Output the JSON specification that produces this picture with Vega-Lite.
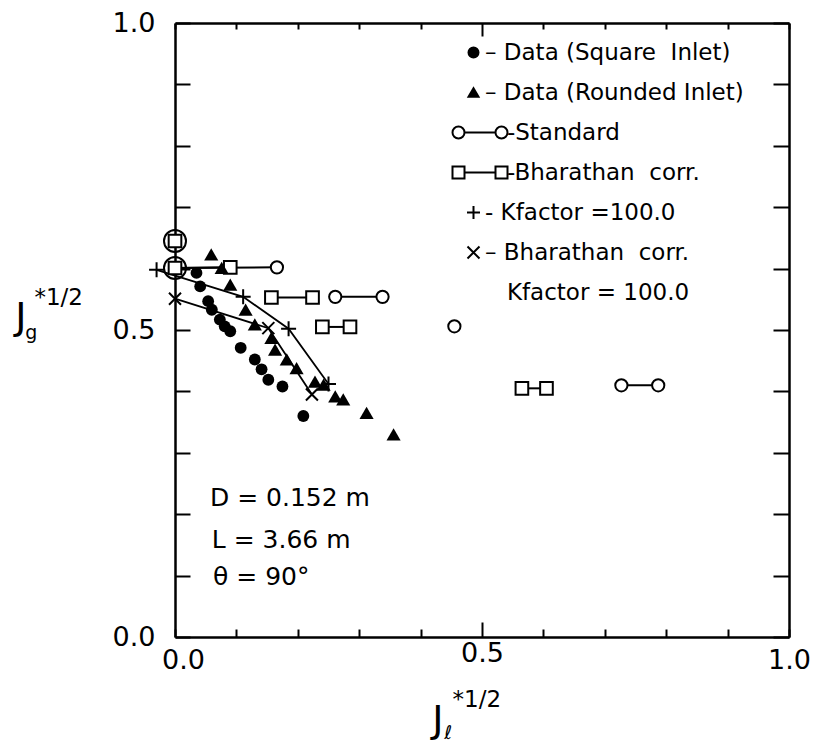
{
  "$schema": "https://vega.github.io/schema/vega-lite/v6.json",
  "width": 614,
  "height": 614,
  "autosize": {"type": "none"},
  "padding": {"left": 175, "top": 23, "right": 28, "bottom": 110},
  "background": "white",
  "config": {
    "view": {"stroke": null},
    "font": "DejaVu Sans",
    "axis": {
      "domainColor": "black",
      "domainWidth": 2.5,
      "tickColor": "black",
      "tickWidth": 2,
      "labelColor": "black",
      "labelFont": "DejaVu Sans",
      "labelFontSize": 27,
      "labelFlush": false,
      "grid": false
    }
  },
  "datasets": {
    "points": [
      {"series": "Standard", "pair": "S1", "x": 0, "y": 0.645},
      {"series": "Standard", "pair": "S2", "x": 0, "y": 0.601},
      {"series": "Standard", "pair": "S2", "x": 0.166, "y": 0.602},
      {"series": "Standard", "pair": "S3", "x": 0.261, "y": 0.554},
      {"series": "Standard", "pair": "S3", "x": 0.338, "y": 0.554},
      {"series": "Standard", "pair": "S4", "x": 0.455, "y": 0.506},
      {"series": "Standard", "pair": "S5", "x": 0.727, "y": 0.41},
      {"series": "Standard", "pair": "S5", "x": 0.787, "y": 0.41},
      {"series": "Bharathan corr.", "pair": "B1", "x": 0, "y": 0.645},
      {"series": "Bharathan corr.", "pair": "B2", "x": 0, "y": 0.601},
      {"series": "Bharathan corr.", "pair": "B2", "x": 0.09, "y": 0.602},
      {"series": "Bharathan corr.", "pair": "B3", "x": 0.157, "y": 0.553},
      {"series": "Bharathan corr.", "pair": "B3", "x": 0.224, "y": 0.553},
      {"series": "Bharathan corr.", "pair": "B4", "x": 0.24, "y": 0.505},
      {"series": "Bharathan corr.", "pair": "B4", "x": 0.285, "y": 0.505},
      {"series": "Bharathan corr.", "pair": "B5", "x": 0.565, "y": 0.405},
      {"series": "Bharathan corr.", "pair": "B5", "x": 0.605, "y": 0.405},
      {"series": "Kfactor =100.0", "pair": "K", "x": -0.03, "y": 0.598},
      {"series": "Kfactor =100.0", "pair": "K", "x": 0.111, "y": 0.554},
      {"series": "Kfactor =100.0", "pair": "K", "x": 0.185, "y": 0.502},
      {"series": "Kfactor =100.0", "pair": "K", "x": 0.25, "y": 0.412},
      {"series": "Bharathan corr. Kfactor = 100.0", "pair": "BK", "x": 0, "y": 0.551},
      {"series": "Bharathan corr. Kfactor = 100.0", "pair": "BK", "x": 0.152, "y": 0.503},
      {"series": "Bharathan corr. Kfactor = 100.0", "pair": "BK", "x": 0.223, "y": 0.395},
      {"series": "Data (Square Inlet)", "pair": "D1", "x": 0.035, "y": 0.593},
      {"series": "Data (Square Inlet)", "pair": "D1", "x": 0.041, "y": 0.571},
      {"series": "Data (Square Inlet)", "pair": "D1", "x": 0.054, "y": 0.547},
      {"series": "Data (Square Inlet)", "pair": "D1", "x": 0.06, "y": 0.533},
      {"series": "Data (Square Inlet)", "pair": "D1", "x": 0.073, "y": 0.517},
      {"series": "Data (Square Inlet)", "pair": "D1", "x": 0.081, "y": 0.506},
      {"series": "Data (Square Inlet)", "pair": "D1", "x": 0.09, "y": 0.498},
      {"series": "Data (Square Inlet)", "pair": "D1", "x": 0.107, "y": 0.471},
      {"series": "Data (Square Inlet)", "pair": "D1", "x": 0.13, "y": 0.452},
      {"series": "Data (Square Inlet)", "pair": "D1", "x": 0.141, "y": 0.436},
      {"series": "Data (Square Inlet)", "pair": "D1", "x": 0.152, "y": 0.419},
      {"series": "Data (Square Inlet)", "pair": "D1", "x": 0.175, "y": 0.408},
      {"series": "Data (Square Inlet)", "pair": "D1", "x": 0.209, "y": 0.36},
      {"series": "Data (Rounded Inlet)", "pair": "D2", "x": 0.059, "y": 0.623},
      {"series": "Data (Rounded Inlet)", "pair": "D2", "x": 0.076, "y": 0.601},
      {"series": "Data (Rounded Inlet)", "pair": "D2", "x": 0.09, "y": 0.574},
      {"series": "Data (Rounded Inlet)", "pair": "D2", "x": 0.115, "y": 0.533},
      {"series": "Data (Rounded Inlet)", "pair": "D2", "x": 0.13, "y": 0.509},
      {"series": "Data (Rounded Inlet)", "pair": "D2", "x": 0.157, "y": 0.487},
      {"series": "Data (Rounded Inlet)", "pair": "D2", "x": 0.163, "y": 0.468},
      {"series": "Data (Rounded Inlet)", "pair": "D2", "x": 0.182, "y": 0.452},
      {"series": "Data (Rounded Inlet)", "pair": "D2", "x": 0.198, "y": 0.438},
      {"series": "Data (Rounded Inlet)", "pair": "D2", "x": 0.228, "y": 0.416},
      {"series": "Data (Rounded Inlet)", "pair": "D2", "x": 0.242, "y": 0.411},
      {"series": "Data (Rounded Inlet)", "pair": "D2", "x": 0.261, "y": 0.392},
      {"series": "Data (Rounded Inlet)", "pair": "D2", "x": 0.274, "y": 0.387},
      {"series": "Data (Rounded Inlet)", "pair": "D2", "x": 0.312, "y": 0.365},
      {"series": "Data (Rounded Inlet)", "pair": "D2", "x": 0.356, "y": 0.33}
    ],
    "notes": [
      {"kind": "param", "text": "D = 0.152 m", "x": 0.057, "y": 0.226},
      {"kind": "param", "text": "L = 3.66 m", "x": 0.06, "y": 0.158},
      {"kind": "param", "text": "θ = 90°", "x": 0.062, "y": 0.098},
      {"kind": "main", "text": "J", "x": -0.251, "y": 0.52},
      {"kind": "main", "text": "J", "x": 0.428, "y": -0.136},
      {"kind": "sub", "text": "g", "x": -0.234, "y": 0.495},
      {"kind": "sub", "text": "ℓ", "x": 0.445, "y": -0.156},
      {"kind": "sup", "text": "*1/2", "x": -0.229, "y": 0.552},
      {"kind": "sup", "text": "*1/2", "x": 0.452, "y": -0.102}
    ]
  },
  "layer": [
    {
      "data": {"name": "points"},
      "transform": [{"filter": "datum.series == 'Standard'"}],
      "mark": {"type": "line", "stroke": "black", "strokeWidth": 2},
      "encoding": {
        "x": {
          "field": "x", "type": "quantitative",
          "scale": {"domain": [0, 1], "nice": false, "zero": false},
          "axis": {
            "orient": "bottom", "title": null,
            "values": [0, 0.1, 0.2, 0.3, 0.4, 0.5, 0.6, 0.7, 0.8, 0.9, 1],
            "tickSize": {"condition": {"test": "datum.value == 0.5", "value": -15}, "value": -8},
            "labelPadding": 18,
            "labelOffset": {"condition": {"test": "datum.value == 0", "value": 8}, "value": 0},
            "labelExpr": "datum.value == 0 || datum.value == 0.5 || datum.value == 1 ? format(datum.value, '.1f') : ''"
          }
        },
        "y": {
          "field": "y", "type": "quantitative",
          "scale": {"domain": [0, 1], "nice": false, "zero": false},
          "axis": {
            "orient": "left", "title": null,
            "values": [0, 0.1, 0.2, 0.3, 0.4, 0.5, 0.6, 0.7, 0.8, 0.9, 1],
            "tickSize": -15,
            "labelPadding": 35,
            "labelExpr": "datum.value == 0 || datum.value == 0.5 || datum.value == 1 ? format(datum.value, '.1f') : ''"
          }
        },
        "detail": {"field": "pair"}
      }
    },
    {
      "data": {"name": "points"},
      "transform": [{"filter": "datum.series == 'Bharathan corr.'"}],
      "mark": {"type": "line", "stroke": "black", "strokeWidth": 2},
      "encoding": {
        "x": {
          "field": "x", "type": "quantitative",
          "axis": {
            "orient": "top", "title": null, "labels": false,
            "values": [0, 0.1, 0.2, 0.3, 0.4, 0.5, 0.6, 0.7, 0.8, 0.9, 1],
            "tickSize": {"condition": {"test": "datum.value == 0.5", "value": -13}, "value": -6}
          }
        },
        "y": {
          "field": "y", "type": "quantitative",
          "axis": {
            "orient": "right", "title": null, "labels": false,
            "values": [0, 0.1, 0.2, 0.3, 0.4, 0.5, 0.6, 0.7, 0.8, 0.9, 1],
            "tickSize": -16
          }
        },
        "detail": {"field": "pair"}
      }
    },
    {
      "data": {"name": "points"},
      "transform": [{"filter": "datum.series == 'Kfactor =100.0' || datum.series == 'Bharathan corr. Kfactor = 100.0'"}],
      "mark": {"type": "line", "stroke": "black", "strokeWidth": 1.8},
      "encoding": {
        "x": {"field": "x", "type": "quantitative", "axis": null},
        "y": {"field": "y", "type": "quantitative", "axis": null},
        "detail": {"field": "pair"}
      }
    },
    {
      "data": {"name": "points"},
      "transform": [{"filter": "datum.series == 'Standard' && datum.x == 0"}],
      "mark": {"type": "point", "shape": "circle", "size": 484, "filled": false, "stroke": "black", "strokeWidth": 2, "opacity": 1},
      "encoding": {
        "x": {"field": "x", "type": "quantitative", "axis": null},
        "y": {"field": "y", "type": "quantitative", "axis": null}
      }
    },
    {
      "data": {"name": "points"},
      "transform": [{"filter": "datum.series == 'Standard' && datum.x > 0"}],
      "mark": {"type": "point", "shape": "circle", "size": 150, "filled": true, "fill": "white", "stroke": "black", "strokeWidth": 2, "opacity": 1},
      "encoding": {
        "x": {"field": "x", "type": "quantitative", "axis": null},
        "y": {"field": "y", "type": "quantitative", "axis": null}
      }
    },
    {
      "data": {"name": "points"},
      "transform": [{"filter": "datum.series == 'Bharathan corr.'"}],
      "mark": {"type": "point", "shape": "square", "size": 160, "filled": true, "fill": "white", "stroke": "black", "strokeWidth": 2, "opacity": 1},
      "encoding": {
        "x": {"field": "x", "type": "quantitative", "axis": null},
        "y": {"field": "y", "type": "quantitative", "axis": null}
      }
    },
    {
      "data": {"name": "points"},
      "transform": [{"filter": "datum.series == 'Kfactor =100.0'"}],
      "mark": {"type": "point", "shape": "M-1,0L1,0M0,-1L0,1", "size": 225, "filled": false, "stroke": "black", "strokeWidth": 2, "opacity": 1},
      "encoding": {
        "x": {"field": "x", "type": "quantitative", "axis": null},
        "y": {"field": "y", "type": "quantitative", "axis": null}
      }
    },
    {
      "data": {"name": "points"},
      "transform": [{"filter": "datum.series == 'Bharathan corr. Kfactor = 100.0'"}],
      "mark": {"type": "point", "shape": "M-1,-1L1,1M-1,1L1,-1", "size": 144, "filled": false, "stroke": "black", "strokeWidth": 2, "opacity": 1},
      "encoding": {
        "x": {"field": "x", "type": "quantitative", "axis": null},
        "y": {"field": "y", "type": "quantitative", "axis": null}
      }
    },
    {
      "data": {"name": "points"},
      "transform": [{"filter": "datum.series == 'Data (Square Inlet)'"}],
      "mark": {"type": "point", "shape": "circle", "size": 140, "filled": true, "fill": "black", "stroke": null, "opacity": 1},
      "encoding": {
        "x": {"field": "x", "type": "quantitative", "axis": null},
        "y": {"field": "y", "type": "quantitative", "axis": null}
      }
    },
    {
      "data": {"name": "points"},
      "transform": [{"filter": "datum.series == 'Data (Rounded Inlet)'"}],
      "mark": {"type": "point", "shape": "triangle-up", "size": 200, "filled": true, "fill": "black", "stroke": null, "opacity": 1},
      "encoding": {
        "x": {"field": "x", "type": "quantitative", "axis": null},
        "y": {"field": "y", "type": "quantitative", "axis": null}
      }
    },
    {
      "data": {"values": []},
      "mark": {"type": "point", "filled": false, "strokeWidth": 2, "opacity": 1},
      "encoding": {
        "x": {"field": "x", "type": "quantitative", "axis": null},
        "y": {"field": "y", "type": "quantitative", "axis": null},
        "shape": {
          "field": "series", "type": "nominal",
          "scale": {
            "domain": ["Data (Square Inlet)", "Data (Rounded Inlet)", "Standard", "Bharathan corr.", "Kfactor =100.0", "Bharathan corr. Kfactor = 100.0", "cont"],
            "range": [
              "circle",
              "triangle-up",
              "M-4.2,0A1.2,1.2 0 1,1 -1.8,0A1.2,1.2 0 1,1 -4.2,0Z M-1.8,0L4.4,0 M4.4,0A1.2,1.2 0 1,1 6.8,0A1.2,1.2 0 1,1 4.4,0Z",
              "M-4.2,-1.2H-1.8V1.2H-4.2Z M-1.8,0L4.4,0 M4.4,-1.2H6.8V1.2H4.4Z",
              "M-1.3,0L1.3,0M0,-1.3L0,1.3",
              "M-1.2,-1.2L1.2,1.2M-1.2,1.2L1.2,-1.2",
              "M0,0"
            ]
          },
          "legend": {
            "orient": "none", "legendX": 287, "legendY": 18, "title": null,
            "labelFont": "DejaVu Sans", "labelFontSize": 23, "labelColor": "black",
            "labelOffset": 0, "labelLimit": 0, "rowPadding": 16,
            "symbolSize": 100, "symbolStrokeWidth": 2,
            "labelExpr": "datum.label == 'Standard' ? '\u200b\u00a0\u00a0\u00a0-Standard' : datum.label == 'Bharathan corr.' ? '\u200b\u00a0\u00a0\u00a0-Bharathan\u00a0\u00a0corr.' : datum.label == 'Kfactor =100.0' ? '- Kfactor =100.0' : datum.label == 'Bharathan corr. Kfactor = 100.0' ? '– Bharathan\u00a0\u00a0corr.' : datum.label == 'cont' ? '\u200b\u00a0\u00a0\u00a0Kfactor = 100.0' : datum.label == 'Data (Square Inlet)' ? '– Data (Square\u00a0\u00a0Inlet)' : '– Data (Rounded Inlet)'"
          }
        },
        "fill": {
          "field": "series", "type": "nominal",
          "scale": {
            "domain": ["Data (Square Inlet)", "Data (Rounded Inlet)", "Standard", "Bharathan corr.", "Kfactor =100.0", "Bharathan corr. Kfactor = 100.0", "cont"],
            "range": ["black", "black", "white", "white", "transparent", "transparent", "transparent"]
          },
          "legend": {
            "orient": "none", "legendX": 287, "legendY": 18, "title": null,
            "labelFont": "DejaVu Sans", "labelFontSize": 23, "labelColor": "black",
            "labelOffset": 0, "labelLimit": 0, "rowPadding": 16,
            "symbolSize": 100, "symbolStrokeWidth": 2
          }
        },
        "stroke": {
          "field": "series", "type": "nominal",
          "scale": {
            "domain": ["Data (Square Inlet)", "Data (Rounded Inlet)", "Standard", "Bharathan corr.", "Kfactor =100.0", "Bharathan corr. Kfactor = 100.0", "cont"],
            "range": ["black", "black", "black", "black", "black", "black", "transparent"]
          },
          "legend": {
            "orient": "none", "legendX": 287, "legendY": 18, "title": null,
            "labelFont": "DejaVu Sans", "labelFontSize": 23, "labelColor": "black",
            "labelOffset": 0, "labelLimit": 0, "rowPadding": 16,
            "symbolSize": 100, "symbolStrokeWidth": 2
          }
        }
      }
    },
    {
      "data": {"name": "notes"},
      "transform": [{"filter": "datum.kind == 'param'"}],
      "mark": {"type": "text", "align": "left", "baseline": "middle", "font": "DejaVu Sans", "fontSize": 25, "color": "black"},
      "encoding": {
        "x": {"field": "x", "type": "quantitative", "axis": null},
        "y": {"field": "y", "type": "quantitative", "axis": null},
        "text": {"field": "text"}
      }
    },
    {
      "data": {"name": "notes"},
      "transform": [{"filter": "datum.kind == 'main'"}],
      "mark": {"type": "text", "align": "center", "baseline": "middle", "font": "DejaVu Sans", "fontSize": 38, "color": "black"},
      "encoding": {
        "x": {"field": "x", "type": "quantitative", "axis": null},
        "y": {"field": "y", "type": "quantitative", "axis": null},
        "text": {"field": "text"}
      }
    },
    {
      "data": {"name": "notes"},
      "transform": [{"filter": "datum.kind == 'sub'"}],
      "mark": {"type": "text", "align": "center", "baseline": "middle", "font": "DejaVu Sans", "fontSize": 19, "color": "black"},
      "encoding": {
        "x": {"field": "x", "type": "quantitative", "axis": null},
        "y": {"field": "y", "type": "quantitative", "axis": null},
        "text": {"field": "text"}
      }
    },
    {
      "data": {"name": "notes"},
      "transform": [{"filter": "datum.kind == 'sup'"}],
      "mark": {"type": "text", "align": "left", "baseline": "middle", "font": "DejaVu Sans", "fontSize": 23, "color": "black"},
      "encoding": {
        "x": {"field": "x", "type": "quantitative", "axis": null},
        "y": {"field": "y", "type": "quantitative", "axis": null},
        "text": {"field": "text"}
      }
    }
  ]
}
